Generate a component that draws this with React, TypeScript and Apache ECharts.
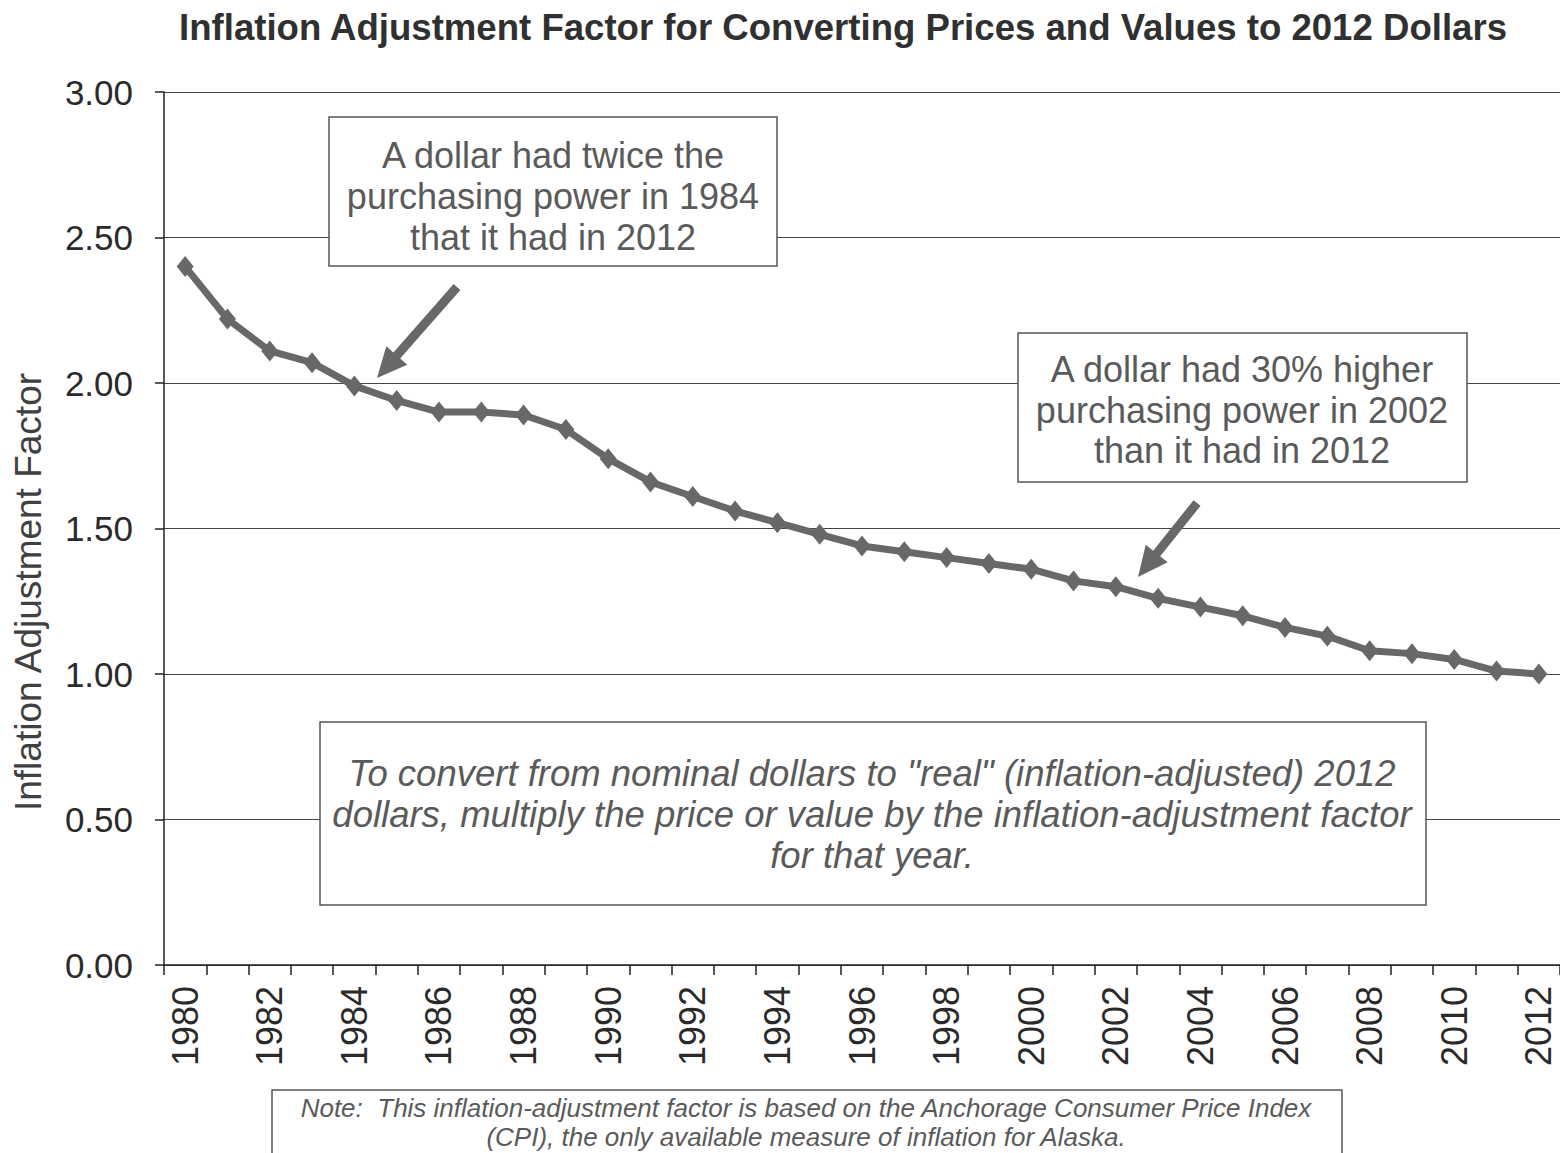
import React, { useEffect, useRef } from "react";
import * as echarts from "echarts";

const years: string[] = [
  "1980", "1981", "1982", "1983", "1984", "1985", "1986", "1987", "1988", "1989",
  "1990", "1991", "1992", "1993", "1994", "1995", "1996", "1997", "1998", "1999",
  "2000", "2001", "2002", "2003", "2004", "2005", "2006", "2007", "2008", "2009",
  "2010", "2011", "2012",
];

const factors: number[] = [
  2.40, 2.22, 2.11, 2.07, 1.99, 1.94, 1.90, 1.90, 1.89, 1.84,
  1.74, 1.66, 1.61, 1.56, 1.52, 1.48, 1.44, 1.42, 1.40, 1.38,
  1.36, 1.32, 1.30, 1.26, 1.23, 1.20, 1.16, 1.13, 1.08, 1.07,
  1.05, 1.01, 1.00,
];

const TITLE = "Inflation Adjustment Factor for Converting Prices and Values to 2012 Dollars";
const Y_NAME = "Inflation Adjustment Factor";
const NOTE_1 = ["A dollar had twice the", "purchasing power in 1984", "that it had in 2012"];
const NOTE_2 = ["A dollar had 30% higher", "purchasing power in 2002", "than it had in 2012"];
const NOTE_3 = [
  'To convert from nominal dollars to "real" (inflation-adjusted) 2012',
  "dollars, multiply the price or value by the inflation-adjustment factor",
  "for that year.",
];
const FOOT = [
  "Note:  This inflation-adjustment factor is based on the Anchorage Consumer Price Index",
  "(CPI), the only available measure of inflation for Alaska.",
];

const GRAY = "#686868";
const TXT = "#5a5a5a";
const BORDER = "#555555";
const FONT = "Liberation Sans, Arial, sans-serif";

function arrowPoints(sx: number, sy: number, tx: number, ty: number) {
  const dx = tx - sx;
  const dy = ty - sy;
  const len = Math.sqrt(dx * dx + dy * dy);
  const ux = dx / len;
  const uy = dy / len;
  const nx = -uy;
  const ny = ux;
  const w = 4.5;
  const H = 14;
  const L = 30;
  const bx = tx - ux * L;
  const by = ty - uy * L;
  return [
    [sx + nx * w, sy + ny * w],
    [bx + nx * w, by + ny * w],
    [bx + nx * H, by + ny * H],
    [tx, ty],
    [bx - nx * H, by - ny * H],
    [bx - nx * w, by - ny * w],
    [sx - nx * w, sy - ny * w],
  ];
}

function textBox(
  x: number, y: number, w: number, h: number,
  lines: string[], cx: number, ys: number[], font: any
) {
  const children: any[] = [
    {
      type: "rect",
      shape: { x, y, width: w, height: h },
      style: { fill: "#ffffff", stroke: BORDER, lineWidth: 1.5 },
      z: 10,
    },
  ];
  lines.forEach((t, i) => {
    children.push({
      type: "text",
      x: cx,
      y: ys[i],
      z: 11,
      style: {
        text: t,
        textAlign: "center",
        textVerticalAlign: "middle",
        fill: TXT,
        ...font,
      },
    });
  });
  return children;
}

export default function App() {
  const ref = useRef<HTMLDivElement>(null);

  useEffect(() => {
    if (!ref.current) return;
    const chart = echarts.init(ref.current, undefined, { renderer: "svg" });

    const boxFont = { fontSize: 36, fontFamily: FONT };
    const italicFont = { fontSize: 36.5, fontStyle: "italic", fontFamily: FONT };
    const footFont = { fontSize: 26, fontStyle: "italic", fontFamily: FONT };

    const graphics: any[] = [
      {
        type: "text",
        x: 843,
        y: 27,
        style: {
          text: TITLE,
          textAlign: "center",
          textVerticalAlign: "middle",
          fill: "#303030",
          fontSize: 36.6,
          fontWeight: "bold",
          fontFamily: FONT,
        },
      },
      {
        type: "text",
        x: 28,
        y: 592,
        rotation: Math.PI / 2,
        style: {
          text: Y_NAME,
          textAlign: "center",
          textVerticalAlign: "middle",
          fill: "#404040",
          fontSize: 37,
          fontFamily: FONT,
        },
      },
      ...textBox(329, 117, 448, 149, NOTE_1, 553, [155, 196, 237], boxFont),
      ...textBox(1018, 333, 449, 149, NOTE_2, 1242, [369, 410, 450], boxFont),
      ...textBox(320, 722, 1106, 183, NOTE_3, 872, [773, 814, 855], italicFont),
      ...textBox(272, 1090, 1070, 80, FOOT, 806, [1108, 1137], footFont),
      {
        type: "polygon",
        z: 12,
        shape: { points: arrowPoints(457, 287, 377, 378) },
        style: { fill: GRAY },
      },
      {
        type: "polygon",
        z: 12,
        shape: { points: arrowPoints(1197, 503, 1138, 577) },
        style: { fill: GRAY },
      },
    ];

    chart.setOption({
      animation: false,
      backgroundColor: "#ffffff",
      grid: { left: 164, right: -3, top: 92, bottom: 188, containLabel: false },
      xAxis: {
        type: "category",
        data: years,
        boundaryGap: true,
        axisLine: { show: true, lineStyle: { color: "#222", width: 1.5 } },
        axisTick: { show: true, interval: 0, length: 10, lineStyle: { color: "#222", width: 1.5 } },
        axisLabel: {
          interval: 1,
          rotate: 90,
          margin: 21,
          fontSize: 36,
          color: "#2a2a2a",
          fontFamily: FONT,
        },
        splitLine: { show: false },
      },
      yAxis: {
        type: "value",
        min: 0,
        max: 3,
        interval: 0.5,
        axisLine: { show: true, lineStyle: { color: "#222", width: 1.5 } },
        axisTick: { show: true, length: 9, lineStyle: { color: "#222", width: 1.5 } },
        axisLabel: {
          formatter: (v: number) => v.toFixed(2),
          margin: 31,
          fontSize: 35,
          color: "#2a2a2a",
          fontFamily: FONT,
        },
        splitLine: { show: true, lineStyle: { color: "#444", width: 1.2 } },
      },
      series: [
        {
          type: "line",
          data: factors,
          symbol: "diamond",
          symbolSize: [17, 21],
          lineStyle: { color: GRAY, width: 7 },
          itemStyle: { color: GRAY },
          z: 5,
        },
      ],
      graphic: graphics,
    });

    return () => chart.dispose();
  }, []);

  return (
    <div
      ref={ref}
      style={{ position: "fixed", left: 0, top: 0, width: 1560, height: 1153, background: "#fff" }}
    />
  );
}
